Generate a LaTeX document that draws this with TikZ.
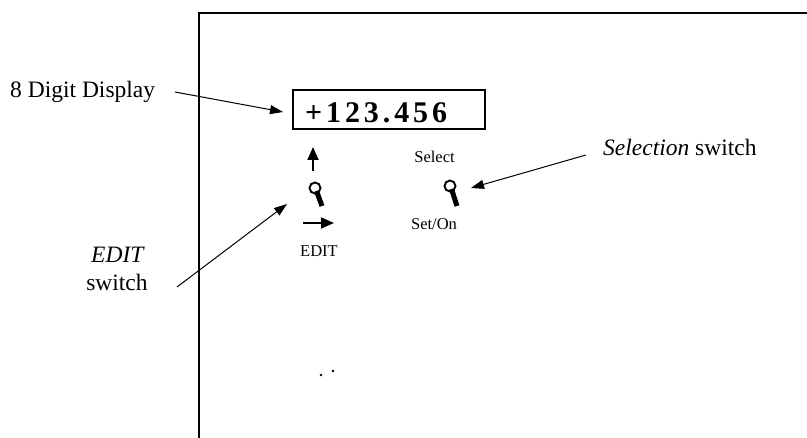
\documentclass[tikz,border=0pt]{standalone}
\usepackage{fontspec}
\setmainfont{Liberation Serif}
\usetikzlibrary{arrows.meta}

\begin{document}
\begin{tikzpicture}[x=1pt,y=-1pt,
  biglabel/.style={font=\fontsize{23.5}{28}\selectfont, inner sep=0pt},
  smalllabel/.style={font=\fontsize{16.5}{19}\selectfont, inner sep=0pt},
  pointer/.style={line width=1pt, -{Triangle[length=13pt,width=9pt]}},
  dirarrow/.style={line width=1.8pt, -{Triangle[length=13pt,width=11pt]}},
  knob/.style={line width=1.9pt},
  lever/.style={line width=5pt},
  dispbox/.style={draw, line width=2pt, minimum width=192pt, minimum height=39pt, inner sep=0pt},
  digits/.style={font=\fontsize{30}{34}\selectfont\bfseries\addfontfeature{LetterSpace=13}, inner sep=0pt}]
\useasboundingbox (0,0) rectangle (807,438);

% front panel outline
\draw[line width=2pt] (199,438) -- (199,13) -- (807,13);

% display window
\node[dispbox] (disp) at (389,109.5) {};
\node[digits, anchor=base west] (val) at (305,123) {+123.456};

% EDIT toggle switch with its direction arrows
\coordinate (upTail) at (313,171);
\coordinate (upTip) at (313,147);
\draw[dirarrow] (upTail) -- (upTip);
\node[knob, draw, circle, minimum size=11pt, inner sep=0pt] (editKnob) at (315,188) {};
\draw[lever] (editKnob.center) ++(1.5,3) -- (322,206);
\coordinate (rtTail) at (303,223);
\coordinate (rtTip) at (334,223);
\draw[dirarrow] (rtTail) -- (rtTip);
\node[smalllabel, anchor=base] (editTxt) at (319,257) {EDIT};

% selection toggle switch
\node[smalllabel, anchor=base] (selTxt) at (434.5,163) {Select};
\node[knob, draw, circle, minimum size=11pt, inner sep=0pt] (selKnob) at (450,186) {};
\draw[lever] (selKnob.center) ++(1.5,3) -- (457,206);
\node[smalllabel, anchor=base] (setTxt) at (434,230) {Set/On};

% callout labels
\node[biglabel, anchor=base west] (dispLbl) at (10,98) {8 Digit Display};
\node[biglabel, anchor=base west] (selLbl) at (603,156) {\textit{Selection} switch};
\node[biglabel, anchor=base] (editLbl1) at (118,263) {\textit{EDIT}};
\node[biglabel, anchor=base] (editLbl2) at (117,291) {switch};

% callout pointers
\coordinate (dispFrom) at (175,92);
\coordinate (dispTo) at (283,112);
\draw[pointer] (dispFrom) -- (dispTo);
\coordinate (selFrom) at (586,155);
\coordinate (selTo) at (471,188);
\draw[pointer] (selFrom) -- (selTo);
\coordinate (editFrom) at (177,287);
\coordinate (editTo) at (287,204);
\draw[pointer] (editFrom) -- (editTo);

% two small dots
\fill (321,375) circle (1.4);
\fill (333,371) circle (1.4);
\end{tikzpicture}
\end{document}
